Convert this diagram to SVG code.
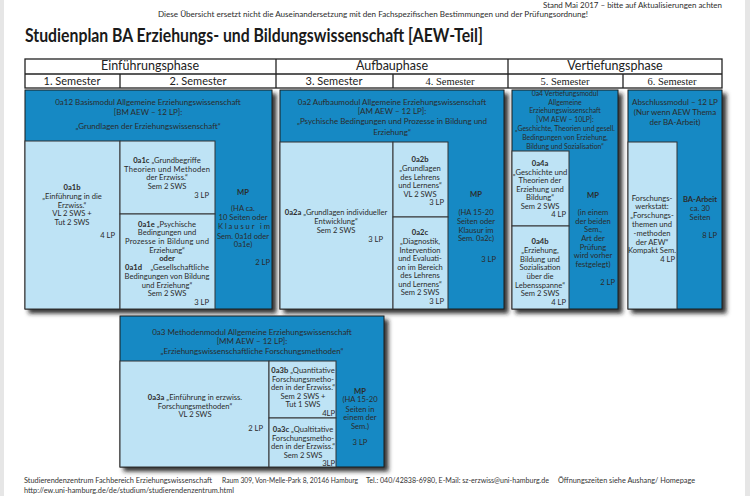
<svg xmlns="http://www.w3.org/2000/svg" width="750" height="496" viewBox="0 0 750 496">
<defs>
<filter id="sh" x="-10%" y="-10%" width="130%" height="130%">
<feDropShadow dx="4" dy="4" stdDeviation="2.2" flood-color="#1a1a1a" flood-opacity="0.9"/>
</filter>
<style>
.t{font-family:Lato,"Liberation Sans",sans-serif;font-size:7.6px;fill:#2b2b2b;text-anchor:middle}
.h{font-size:8px}
.s{font-size:6.9px}
.b{font-weight:bold}
.r{text-anchor:end}
.l{text-anchor:start}
.dk{fill:#1389c4;stroke:#1d1d1d;stroke-width:1}
.lt{fill:#bee3f5;stroke:#333;stroke-width:1}
.hd{fill:#fff;stroke:#222;stroke-width:1.3}
.ph{font-family:Lato,"Liberation Sans",sans-serif;font-size:12.5px;fill:#222;text-anchor:middle}
.se{font-family:Lato,"Liberation Sans",sans-serif;font-size:11px;fill:#222;text-anchor:middle}
.sr{font-family:"Liberation Serif",serif;font-size:10.5px;fill:#222;text-anchor:middle}
.ft{font-family:Lato,"Liberation Sans",sans-serif;font-size:7px;fill:#333}
</style>
</defs>
<rect x="0" y="0" width="750" height="496" fill="#e6e6e6"/>
<rect x="4" y="0" width="741" height="496" fill="#fff"/>

<g id="top-notes">
<text class="t h" x="722" y="7.5" style="text-anchor:end" textLength="179" lengthAdjust="spacingAndGlyphs">Stand Mai 2017 – bitte auf Aktualisierungen achten</text>
<text class="t h" x="158" y="17" style="text-anchor:start" textLength="430" lengthAdjust="spacingAndGlyphs">Diese Übersicht ersetzt nicht die Auseinandersetzung mit den Fachspezifischen Bestimmungen und der Prüfungsordnung!</text>
<text x="25" y="42" font-family="Lato,'Liberation Sans',sans-serif" font-weight="bold" font-size="18" fill="#1a1a1a" textLength="458" lengthAdjust="spacingAndGlyphs">Studienplan BA Erziehungs- und Bildungswissenschaft [AEW-Teil]</text>
</g>

<g id="header-table">
<rect class="hd" x="25" y="59" width="697" height="29"/>
<line x1="25" y1="74" x2="722" y2="74" stroke="#222" stroke-width="1.3"/>
<line x1="276" y1="59" x2="276" y2="88" stroke="#222" stroke-width="1.3"/>
<line x1="508" y1="59" x2="508" y2="88" stroke="#222" stroke-width="1.3"/>
<line x1="120" y1="74" x2="120" y2="88" stroke="#222" stroke-width="1.3"/>
<line x1="393" y1="74" x2="393" y2="88" stroke="#222" stroke-width="1.3"/>
<line x1="623" y1="74" x2="623" y2="88" stroke="#222" stroke-width="1.3"/>
<text class="ph" x="150" y="70">Einführungsphase</text>
<text class="ph" x="392" y="70">Aufbauphase</text>
<text class="ph" x="615" y="70">Vertiefungsphase</text>
<text class="se" x="72" y="85">1. Semester</text>
<text class="se" x="198" y="85">2. Semester</text>
<text class="se" x="334" y="85">3. Semester</text>
<text class="sr" x="450" y="85">4. Semester</text>
<text class="sr" x="565" y="85">5. Semester</text>
<text class="sr" x="672" y="85">6. Semester</text>
</g>

<g id="module-0a12">
<rect class="dk" x="25" y="90" width="247" height="219" filter="url(#sh)"/>
<text class="t h" x="148" y="104.5">0a12 Basismodul Allgemeine Erziehungswissenschaft</text>
<text class="t h" x="148" y="114.5">[BM AEW – 12 LP]:</text>
<text class="t h" x="148" y="128.5">„Grundlagen der Erziehungswissenschaft“</text>
<g id="cell-0a1b">
<rect class="lt" x="25" y="141" width="95" height="168"/>
<text class="t b" x="72" y="190">0a1b</text>
<text class="t" x="72" y="199">„Einführung in die</text>
<text class="t" x="72" y="207.5">Erzwiss.“</text>
<text class="t" x="72" y="216">VL 2 SWS +</text>
<text class="t" x="72" y="224.5">Tut 2 SWS</text>
<text class="t r" x="115" y="238">4 LP</text>
</g>
<g id="cell-0a1c">
<rect class="lt" x="120" y="141" width="95" height="73"/>
<text class="t" x="167" y="163"><tspan class="b">0a1c</tspan> „Grundbegriffe</text>
<text class="t l" x="124" y="171.5" textLength="86" lengthAdjust="spacing">Theorien und Methoden</text>
<text class="t" x="167" y="180">der Erzwiss.“</text>
<text class="t" x="167" y="188.5">Sem 2 SWS</text>
<text class="t r" x="209" y="197.5">3 LP</text>
</g>
<g id="cell-0a1e">
<rect class="lt" x="120" y="214" width="95" height="95"/>
<text class="t" x="167" y="226.5"><tspan class="b">0a1e</tspan> „Psychische</text>
<text class="t" x="167" y="235">Bedingungen und</text>
<text class="t l" x="125" y="244" textLength="84" lengthAdjust="spacing">Prozesse in Bildung und</text>
<text class="t" x="167" y="252.5">Erziehung“</text>
<text class="t b" x="167" y="261">oder</text>
<text class="t b l" x="125" y="270">0a1d</text>
<text class="t r" x="209" y="270">„Gesellschaftliche</text>
<text class="t" x="167" y="279">Bedingungen von Bildung</text>
<text class="t" x="167" y="287.5">und Erziehung“</text>
<text class="t" x="167" y="296">Sem 2 SWS</text>
<text class="t r" x="209" y="305">3 LP</text>
</g>
<g id="cell-mp-0a12">
<text class="t b" x="243" y="195">MP</text>
<text class="t" x="243" y="211">(HA ca.</text>
<text class="t" x="243" y="220">10 Seiten oder</text>
<text class="t l" x="218" y="229" textLength="52" lengthAdjust="spacing">Klausur im</text>
<text class="t" x="243" y="238.5">Sem. 0a1d oder</text>
<text class="t" x="243" y="247">0a1e)</text>
<text class="t r" x="270" y="265">2 LP</text>
</g>
</g>

<g id="module-0a2">
<rect class="dk" x="280" y="90" width="224" height="219" filter="url(#sh)"/>
<text class="t h" x="392" y="104.5">0a2 Aufbaumodul Allgemeine Erziehungswissenschaft</text>
<text class="t h" x="392" y="114">[AM AEW – 12 LP]:</text>
<text class="t h" x="392" y="124">„Psychische Bedingungen und Prozesse in Bildung und</text>
<text class="t h" x="392" y="134.5">Erziehung“</text>
<g id="cell-0a2a">
<rect class="lt" x="280" y="142" width="113" height="167"/>
<text class="t" x="336" y="215"><tspan class="b">0a2a</tspan> „Grundlagen individueller</text>
<text class="t" x="336" y="224">Entwicklung“</text>
<text class="t" x="336" y="232.5">Sem 2 SWS</text>
<text class="t r" x="383" y="241.5">3 LP</text>
</g>
<g id="cell-0a2b">
<rect class="lt" x="393" y="142" width="55" height="75"/>
<text class="t b" x="420" y="162">0a2b</text>
<text class="t" x="420" y="171">„Grundlagen</text>
<text class="t" x="420" y="179.5">des Lehrens</text>
<text class="t" x="420" y="188">und Lernens“</text>
<text class="t" x="420" y="196.5">VL 2 SWS</text>
<text class="t r" x="444" y="205">3 LP</text>
</g>
<g id="cell-0a2c">
<rect class="lt" x="393" y="217" width="55" height="92"/>
<text class="t b" x="420" y="234.5">0a2c</text>
<text class="t" x="420" y="244">„Diagnostik,</text>
<text class="t" x="420" y="252.5">Intervention</text>
<text class="t" x="420" y="261">und Evaluati-</text>
<text class="t" x="420" y="269.5">on im Bereich</text>
<text class="t" x="420" y="278">des Lehrens</text>
<text class="t" x="420" y="286.5">und Lernens“</text>
<text class="t" x="420" y="295">Sem 2 SWS</text>
<text class="t r" x="444" y="304">3 LP</text>
</g>
<g id="cell-mp-0a2">
<text class="t b" x="476" y="197">MP</text>
<text class="t" x="476" y="215">(HA 15-20</text>
<text class="t" x="476" y="224">Seiten oder</text>
<text class="t" x="476" y="232.5">Klausur im</text>
<text class="t" x="476" y="241">Sem. 0a2c)</text>
<text class="t r" x="496" y="262">3 LP</text>
</g>
</g>

<g id="module-0a4">
<rect class="dk" x="512" y="90" width="106" height="219" filter="url(#sh)"/>
<text class="t s" x="565" y="95.5">0a4 Vertiefungsmodul</text>
<text class="t s" x="565" y="104.5">Allgemeine</text>
<text class="t s" x="565" y="113">Erziehungswissenschaft</text>
<text class="t s" x="565" y="122">[VM AEW – 10LP]:</text>
<text class="t s" x="565" y="131">„Geschichte, Theorien und gesell.</text>
<text class="t s" x="565" y="140">Bedingungen von Erziehung,</text>
<text class="t s" x="565" y="148.5">Bildung und Sozialisation“</text>
<g id="cell-0a4a">
<rect class="lt" x="512" y="151" width="57" height="75"/>
<text class="t b" x="540" y="166">0a4a</text>
<text class="t" x="540" y="174.5">„Geschichte und</text>
<text class="t" x="540" y="183">Theorien der</text>
<text class="t" x="540" y="191.5">Erziehung und</text>
<text class="t" x="540" y="200">Bildung“</text>
<text class="t" x="540" y="208.5">Sem 2 SWS</text>
<text class="t r" x="566" y="217">4 LP</text>
</g>
<g id="cell-0a4b">
<rect class="lt" x="512" y="226" width="57" height="83"/>
<text class="t b" x="540" y="244">0a4b</text>
<text class="t" x="540" y="253">„Erziehung,</text>
<text class="t" x="540" y="261.5">Bildung und</text>
<text class="t" x="540" y="270">Sozialisation</text>
<text class="t" x="540" y="278.5">über die</text>
<text class="t" x="540" y="287.5">Lebensspanne“</text>
<text class="t" x="540" y="296">Sem 2 SWS</text>
<text class="t r" x="566" y="304.5">4 LP</text>
</g>
<g id="cell-mp-0a4">
<text class="t b" x="593" y="197.5">MP</text>
<text class="t" x="593" y="215">(in einem</text>
<text class="t" x="593" y="223.5">der beiden</text>
<text class="t" x="593" y="232">Sem.,</text>
<text class="t" x="593" y="241">Art der</text>
<text class="t" x="593" y="249.5">Prüfung</text>
<text class="t" x="593" y="258">wird vorher</text>
<text class="t" x="593" y="267">festgelegt)</text>
<text class="t r" x="615" y="284.5">2 LP</text>
</g>
</g>

<g id="module-abschluss">
<rect class="dk" x="628" y="90" width="94" height="219" filter="url(#sh)"/>
<text class="t h" x="675" y="104.5">Abschlussmodul – 12 LP</text>
<text class="t h" x="675" y="115">(Nur wenn AEW Thema</text>
<text class="t h" x="675" y="124.5">der BA-Arbeit)</text>
<g id="cell-forschungswerkstatt">
<rect class="lt" x="628" y="142" width="49" height="167"/>
<text class="t" x="652" y="200.5">Forschungs-</text>
<text class="t" x="652" y="209">werkstatt:</text>
<text class="t" x="652" y="218">„Forschungs-</text>
<text class="t" x="652" y="227">themen und</text>
<text class="t" x="652" y="235.5">-methoden</text>
<text class="t" x="652" y="244.5">der AEW“</text>
<text class="t" x="652" y="253">Kompakt Sem.</text>
<text class="t r" x="675" y="261.5">4 LP</text>
</g>
<g id="cell-ba-arbeit">
<text class="t b" x="700" y="202">BA-Arbeit</text>
<text class="t" x="700" y="211">ca. 30</text>
<text class="t" x="700" y="219.5">Seiten</text>
<text class="t r" x="717" y="237.5">8 LP</text>
</g>
</g>

<g id="module-0a3">
<rect class="dk" x="120" y="316" width="264" height="151" filter="url(#sh)"/>
<text class="t h" x="252" y="334.5">0a3 Methodenmodul Allgemeine Erziehungswissenschaft</text>
<text class="t h" x="252" y="343.5">[MM AEW – 12 LP]:</text>
<text class="t h" x="252" y="353.5">„Erziehungswissenschaftliche Forschungsmethoden“</text>
<g id="cell-0a3a">
<rect class="lt" x="120" y="361" width="149" height="106"/>
<text class="t" x="195" y="400"><tspan class="b">0a3a</tspan> „Einführung in erzwiss.</text>
<text class="t" x="195" y="408.5">Forschungsmethoden“</text>
<text class="t" x="195" y="417">VL 2 SWS</text>
<text class="t r" x="263" y="430.5">2 LP</text>
</g>
<g id="cell-0a3b">
<rect class="lt" x="269" y="361" width="67" height="57"/>
<text class="t" x="303" y="373"><tspan class="b">0a3b</tspan> „Quantitative</text>
<text class="t" x="303" y="381.5">Forschungsmetho-</text>
<text class="t" x="303" y="390">den in der Erzwiss.“</text>
<text class="t" x="303" y="398.5">Sem 2 SWS +</text>
<text class="t" x="303" y="407">Tut 1 SWS</text>
<text class="t r" x="335" y="416">4LP</text>
</g>
<g id="cell-0a3c">
<rect class="lt" x="269" y="418" width="67" height="49"/>
<text class="t" x="303" y="432"><tspan class="b">0a3c</tspan> „Qualtitative</text>
<text class="t" x="303" y="440.5">Forschungsmetho-</text>
<text class="t" x="303" y="449">den in der Erzwiss.“</text>
<text class="t" x="303" y="457.5">Sem 2 SWS</text>
<text class="t r" x="335" y="466">3LP</text>
</g>
<g id="cell-mp-0a3">
<text class="t b" x="360" y="393.5">MP</text>
<text class="t" x="360" y="402">(HA 15-20</text>
<text class="t" x="360" y="411.5">Seiten in</text>
<text class="t" x="360" y="420">einem der</text>
<text class="t" x="360" y="428.5">Sem.)</text>
<text class="t" x="360" y="445">3 LP</text>
</g>
</g>

<g id="connectors"/>

<g id="footer">
<text class="ft" x="24" y="483" textLength="188" lengthAdjust="spacingAndGlyphs">Studierendenzentrum Fachbereich Erziehungswissenschaft</text>
<text class="ft" x="222" y="483" textLength="136" lengthAdjust="spacingAndGlyphs">Raum 309, Von-Melle-Park 8, 20146 Hamburg</text>
<text class="ft" x="366" y="483" textLength="183" lengthAdjust="spacingAndGlyphs">Tel.: 040/42838-6980, E-Mail: sz-erzwiss@uni-hamburg.de</text>
<text class="ft" x="558" y="483" textLength="137" lengthAdjust="spacingAndGlyphs">Öffnungszeiten siehe Aushang/ Homepage</text>
<text class="ft" x="24" y="493" textLength="210" lengthAdjust="spacingAndGlyphs">http://ew.uni-hamburg.de/de/studium/studierendenzentrum.html</text>
</g>
</svg>
